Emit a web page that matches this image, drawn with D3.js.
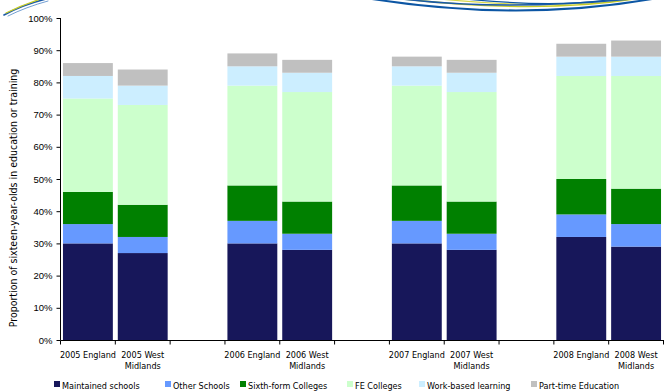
<!DOCTYPE html>
<html>
<head>
<meta charset="utf-8">
<script src="https://cdn.jsdelivr.net/npm/d3@7"></script>
<style>
  html, body { margin: 0; padding: 0; background: #fff; }
  svg { display: block; font-family: "DejaVu Sans Condensed", "DejaVu Sans", sans-serif; font-stretch: condensed; }
</style>
</head>
<body>
<svg id="chart" width="664" height="392"></svg>
<script>
// Slots along the x axis; empty strings are spacer slots between years
const categories = ["2005 England", "2005 West|Midlands", "", "2006 England", "2006 West|Midlands", "",
                    "2007 England", "2007 West|Midlands", "", "2008 England", "2008 West|Midlands"];

// Stack segment sizes (percentage points), one value per non-empty slot in order
const maintainedSchools = [30, 27, 30, 28, 30, 28, 32, 29];
const otherSchools      = [6, 5, 7, 5, 7, 5, 7, 7];
const sixthFormColleges = [10, 10, 11, 10, 11, 10, 11, 11];
const feColleges        = [29, 31, 31, 34, 31, 34, 32, 35];
const workBasedLearning = [7, 6, 6, 6, 6, 6, 6, 6];
const partTimeEducation = [4, 5, 4, 4, 3, 4, 4, 5];

const seriesNames = ["Maintained schools", "Other Schools", "Sixth-form Colleges",
                     "FE Colleges", "Work-based learning", "Part-time Education"];
const yTicks = [0, 10, 20, 30, 40, 50, 60, 70, 80, 90, 100];

const colors = ["#17175a", "#6699ff", "#008000", "#ccffcc", "#cceeff", "#c0c0c0"];

const svg = d3.select("#chart");
const fs = "9px";

// Decorative swooshes along the top edge
const deco = svg.append("g");
[
  {d: "M4,15 Q22,5 46,-1", c: "#1a5aa8", w: 1.6},
  {d: "M6,13 Q24,4 44,-2", c: "#c8cc28", w: 1.2},
  {d: "M8,16 Q26,7 48,1", c: "#4f86c6", w: 0.8},
  {d: "M372,-1 Q520,22 652,-1", c: "#0c56a4", w: 2.2},
  {d: "M395,-2 Q540,15 640,-2", c: "#c8cc28", w: 1.6},
  {d: "M420,-3 Q560,12 630,-3", c: "#d6d84a", w: 1.2},
  {d: "M380,-4 Q500,14 660,-4", c: "#1a5aa8", w: 1.6},
  {d: "M455,-2 Q560,9 620,-2", c: "#0c56a4", w: 1.2}
].forEach(s => deco.append("path").attr("d", s.d).attr("fill", "none")
  .attr("stroke", s.c).attr("stroke-width", s.w).attr("stroke-linecap", "round"));

const x = d3.scaleBand().domain(d3.range(categories.length)).range([60.5, 663.5]).padding(0);
const y = d3.scaleLinear().domain([0, 100]).range([340, 18]);

// Map bars to their slots
const barSlots = categories.map((c, i) => c ? i : -1).filter(i => i >= 0);
const series = [maintainedSchools, otherSchools, sixthFormColleges, feColleges, workBasedLearning, partTimeEducation];
const rows = barSlots.map((slot, j) => {
  const r = {slot};
  seriesNames.forEach((n, k) => r[n] = series[k][j]);
  return r;
});
const stacked = d3.stack().keys(seriesNames)(rows);

const inset = x.bandwidth() * 0.045;
const barW = x.bandwidth() * 0.91;

svg.append("g").selectAll("g").data(stacked).join("g")
  .attr("fill", (d, i) => colors[i])
  .selectAll("rect").data(d => d).join("rect")
  .attr("x", d => x(d.data.slot) + inset)
  .attr("width", barW)
  .attr("y", d => y(d[1]))
  .attr("height", d => y(d[0]) - y(d[1]));

// Y axis
const yAxis = svg.append("g").attr("transform", "translate(60.5,0)")
  .call(d3.axisLeft(y).tickValues(yTicks).tickFormat(d => d + "%").tickSize(4).tickSizeOuter(0));
yAxis.select(".domain").attr("stroke", "#000").attr("d", "M0,18V340");
yAxis.selectAll(".tick line").attr("stroke", "#000");
yAxis.selectAll(".tick text").attr("font-size", "9.5px").attr("fill", "#000")
  .attr("font-family", null).attr("x", -8);

// X axis: ticks at slot boundaries
const xa = svg.append("g");
xa.append("line").attr("x1", 60.5).attr("x2", 664).attr("y1", 340.5).attr("y2", 340.5).attr("stroke", "#000");
d3.range(categories.length + 1).forEach(i => {
  const px = i < categories.length ? x(i) : x(categories.length - 1) + x.bandwidth();
  xa.append("line").attr("x1", px).attr("x2", px).attr("y1", 340.5).attr("y2", 344.5).attr("stroke", "#000");
});
categories.forEach((c, i) => {
  if (!c) return;
  const lines = c.split("|");
  const t = xa.append("text").attr("text-anchor", "middle").attr("font-size", fs).attr("fill", "#000");
  lines.forEach((ln, k) => t.append("tspan").attr("x", x(i) + x.bandwidth() / 2).attr("y", 358 + k * 11).text(ln));
});

// Y axis title
svg.append("text")
  .attr("transform", "translate(17,198) rotate(-90)")
  .attr("text-anchor", "middle").attr("font-size", "10.5px").attr("fill", "#000")
  .text("Proportion of sixteen-year-olds in education or training");

// Legend
const legendX = [54, 165, 240, 347, 419, 531];
const lg = svg.append("g");
seriesNames.forEach((n, i) => {
  lg.append("rect").attr("x", legendX[i]).attr("y", 381).attr("width", 6).attr("height", 6).attr("fill", colors[i]);
  lg.append("text").attr("x", legendX[i] + 8).attr("y", 388.5).attr("font-size", fs).attr("fill", "#000").text(n);
});
</script>
</body>
</html>
